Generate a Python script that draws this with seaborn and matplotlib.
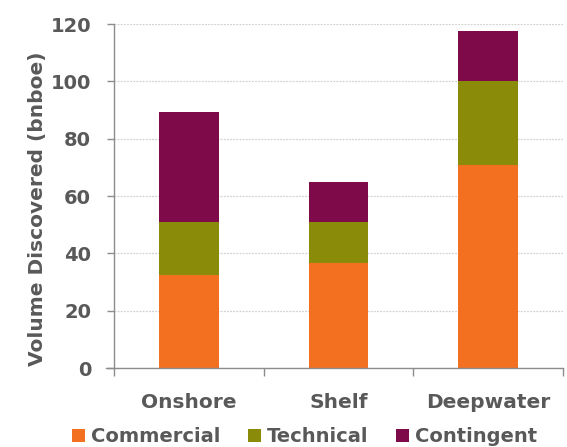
import matplotlib
matplotlib.use("Agg")
import matplotlib.pyplot as plt
from matplotlib.patches import Patch
from matplotlib.ticker import FixedLocator
import numpy as np
import pandas as pd
import seaborn as sns

# Discovered volumes by setting (bnboe)
regions = ["Onshore", "Shelf", "Deepwater"]
commercial = [32.4, 36.7, 70.7]
technical = [18.5, 14.1, 29.4]
contingent = [38.4, 14.0, 17.4]
series_names = ["Commercial", "Technical", "Contingent"]
yticks = [0, 20, 40, 60, 80, 100, 120]

colors = {"Commercial": "#F47021", "Technical": "#8B8B0A", "Contingent": "#7F0A4A"}
text_gray = "#595959"
axis_gray = "#8C8C8C"

sns.set_theme(style="white")
plt.rcParams["font.family"] = ["DejaVu Sans"]
plt.rcParams["font.weight"] = "bold"

df = pd.DataFrame({
    "region": regions,
    "Commercial": commercial,
    "Technical": technical,
    "Contingent": contingent,
})
# cumulative tops for stacking: draw tallest first, shorter layers on top
df["top_Contingent"] = df["Commercial"] + df["Technical"] + df["Contingent"]
df["top_Technical"] = df["Commercial"] + df["Technical"]
df["top_Commercial"] = df["Commercial"]

fig = plt.figure(figsize=(5.67, 4.47), dpi=100)
ax = fig.add_axes([0.201, 0.1767, 0.792, 0.7693])

for name in ["Contingent", "Technical", "Commercial"]:
    sns.barplot(data=df, x="region", y="top_" + name, color=colors[name],
                saturation=1, width=0.4, order=regions, ax=ax, linewidth=0)

ax.set_xlim(-0.5, 2.5)
ax.set_ylim(0, 120)
ax.set_yticks(yticks)
ax.set_yticklabels([str(v) for v in yticks])
ax.yaxis.grid(True, color="#D2D2D2", linestyle=(0, (1.5, 1)), linewidth=0.9)
ax.xaxis.grid(False)
ax.set_axisbelow(True)

for side in ["top", "right"]:
    ax.spines[side].set_visible(False)
for side in ["left", "bottom"]:
    ax.spines[side].set_color(axis_gray)
    ax.spines[side].set_linewidth(1.0)
ax.spines["bottom"].set_bounds(-0.55, 2.5)

ax.tick_params(axis="y", which="major", direction="out", length=5, width=1,
               color=axis_gray, labelsize=14, labelcolor=text_gray, pad=11.5, left=True)
ax.xaxis.set_minor_locator(FixedLocator([-0.5, 0.5, 1.5, 2.5]))
ax.tick_params(axis="x", which="major", length=0, labelsize=14.5,
               labelcolor=text_gray, pad=18)
ax.tick_params(axis="x", which="minor", direction="out", length=5.8, width=1,
               color=axis_gray, bottom=True)
for lbl in ax.get_xticklabels() + ax.get_yticklabels():
    lbl.set_fontweight("bold")

ax.set_xlabel("")
ax.set_ylabel("Volume Discovered (bnboe)", fontsize=14.5, fontweight="bold",
              color=text_gray)
ax.yaxis.set_label_coords(-0.149, 0.462)

handles = [Patch(facecolor=colors[n], edgecolor="none") for n in series_names]
fig.legend(handles, series_names, loc="center", bbox_to_anchor=(0.537, 0.0235),
           ncol=3, frameon=False, prop={"size": 14, "weight": "bold"},
           labelcolor=text_gray, handlelength=0.65, handleheight=0.65,
           handletextpad=0.3, columnspacing=1.45, borderaxespad=0)

fig.savefig("out.png", dpi=100)
